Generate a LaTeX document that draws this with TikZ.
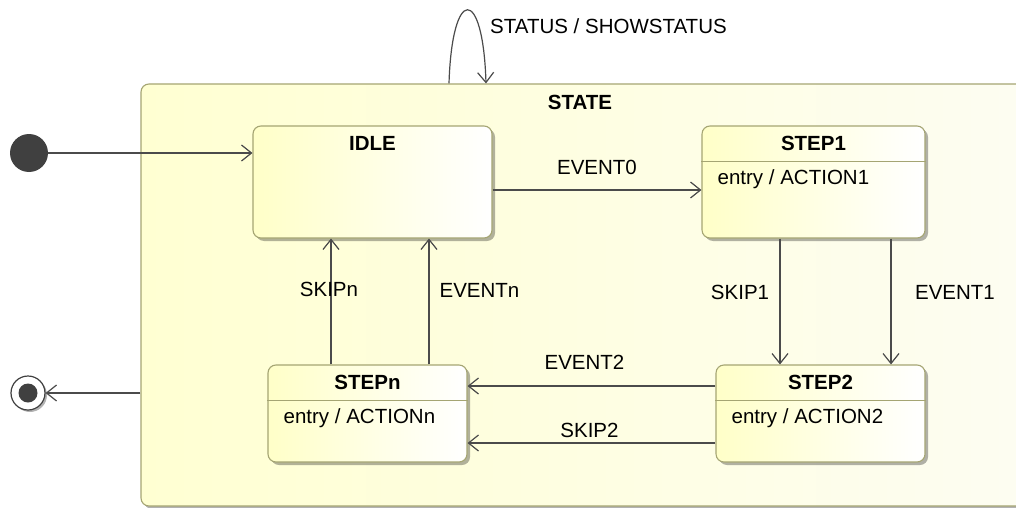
\documentclass[tikz,border=0pt]{standalone}
\usepackage{fontspec}
\setmainfont{Liberation Sans}
\usetikzlibrary{arrows.meta}
\usetikzlibrary{shadows}
\definecolor{stborder}{RGB}{165,165,115}
\definecolor{stfill}{RGB}{255,255,200}
\definecolor{boxleft}{RGB}{255,255,210}
\definecolor{boxright}{RGB}{253,253,242}
\definecolor{edgecol}{RGB}{75,75,75}
\definecolor{dotcol}{RGB}{64,64,64}
\newcommand{\stepstate}[7]{ \node[st, minimum width=#4pt, minimum height=#5pt] (#1) at ( #2 , #3 ){}; \node[sttitle] (#1title) at ([yshift=-18pt]#1.north){#6}; \draw[stborder, line width=1.1pt] ([yshift=-36pt]#1.north west) -- ([yshift=-36pt]#1.north east); \node[stentry] (#1entry) at ([xshift=16pt,yshift=-54pt]#1.north west){#7};}

\begin{document}
\begin{tikzpicture}[x=1pt, y=-1pt, font=\fontsize{20.5}{24}\selectfont,
    st/.style={draw=stborder, line width=1.1pt, rounded corners=8pt, left color=stfill, right color=white,
        drop shadow={shadow xshift=3pt, shadow yshift=-3pt, fill=black, opacity=.3}},
    sttitle/.style={font=\fontsize{20.5}{24}\selectfont\bfseries, inner sep=0pt},
    stentry/.style={anchor=west, inner sep=0pt},
    trans/.style={draw=edgecol, line width=1.2pt, -{Straight Barb[length=10pt,width=16pt]}},
    lbl/.style={inner sep=0pt}]
    \useasboundingbox (0,0) rectangle (1016,508);
    \clip (0,0) rectangle (1016,508);

    % container
    \node[st, left color=boxleft, right color=boxright, minimum width=900pt, minimum height=422pt] (state) at (591,295){};
    \node[sttitle] (statetitle) at (580,102){STATE};

    % pseudo states
    \node[shape=circle, fill=dotcol, inner sep=0pt, minimum size=38pt] (init) at (29,153){};
    \node[shape=circle, draw=dotcol, fill=white, line width=1.2pt, inner sep=0pt, minimum size=34pt,
        drop shadow={shadow xshift=2pt, shadow yshift=-2pt, fill=black, opacity=.3}] (fin) at (28,393){};
    \node[shape=circle, fill=dotcol, inner sep=0pt, minimum size=19pt] (finin) at (fin){};

    % states
    \node[st, minimum width=239pt, minimum height=112pt] (idle) at (372.5,182){};
    \node[sttitle] (idletitle) at ([yshift=-18pt]idle.north){IDLE};
    \stepstate{step1}{813.5}{182}{223}{112}{STEP1}{entry / ACTION1}
    \stepstate{step2}{820.5}{413.5}{209}{97}{STEP2}{entry / ACTION2}
    \stepstate{stepn}{367.5}{413.5}{199}{97}{STEPn}{entry / ACTIONn}

    % self loop
    \coordinate (loopout) at ([xshift=-142pt]state.north);
    \coordinate (loopin) at ([xshift=-105pt]state.north);
    \draw[trans] (loopout) .. controls ([xshift=3pt,yshift=98pt]loopout) and ([xshift=-3pt,yshift=98pt]loopin) .. (loopin);
    \node[lbl, anchor=west] (looplbl) at (490,26){STATUS / SHOWSTATUS};

    % transitions
    \draw[trans] (init) -- (init -| idle.west);
    \draw[trans] ([yshift=-8pt]idle.east) -- ([yshift=-8pt]idle.east -| step1.west)
        node[lbl, midway, yshift=23pt]{EVENT0};
    \draw[trans] ([xshift=-33.5pt]step1.south) -- ([xshift=-33.5pt]step1.south |- step2.north)
        node[lbl, midway, xshift=-40pt, yshift=9pt]{SKIP1};
    \draw[trans] ([xshift=77.5pt]step1.south) -- ([xshift=77.5pt]step1.south |- step2.north)
        node[lbl, midway, xshift=64pt, yshift=9pt]{EVENT1};
    \draw[trans] ([yshift=27.5pt]step2.west) -- ([yshift=27.5pt]step2.west -| stepn.east)
        node[lbl, midway, xshift=-7pt, yshift=24pt]{EVENT2};
    \draw[trans] ([yshift=-29.5pt]step2.west) -- ([yshift=-29.5pt]step2.west -| stepn.east)
        node[lbl, midway, xshift=-2pt, yshift=13pt]{SKIP2};
    \draw[trans] ([xshift=-36.5pt]stepn.north) -- ([xshift=-36.5pt]stepn.north |- idle.south)
        node[lbl, midway, xshift=-2pt, yshift=12pt]{SKIPn};
    \draw[trans] ([xshift=61.5pt]stepn.north) -- ([xshift=61.5pt]stepn.north |- idle.south)
        node[lbl, midway, anchor=west, xshift=10pt, yshift=11pt]{EVENTn};
    \draw[trans] (state.west |- fin) -- (fin);
\end{tikzpicture}
\end{document}
